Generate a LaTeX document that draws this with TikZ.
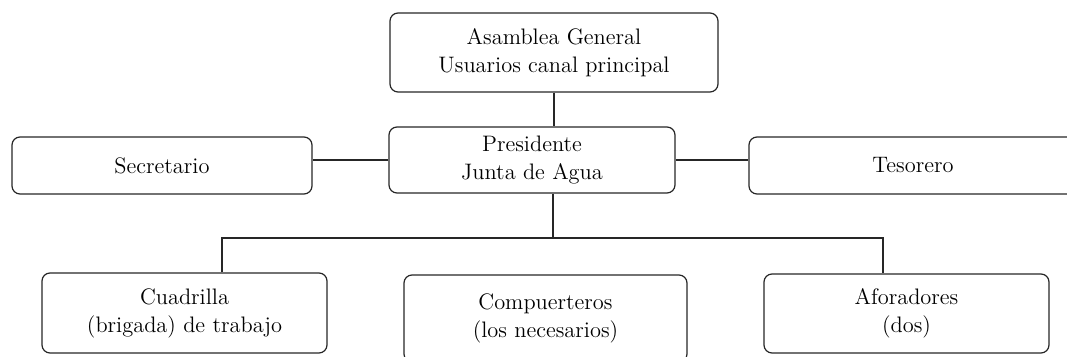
\documentclass[tikz,border=0pt]{standalone}
\usetikzlibrary{positioning}
\tikzstyle{unitbox}=[draw=black!85,line width=0.6pt,rounded corners=4pt,align=center,inner sep=0pt,font=\fontsize{11.2}{14}\selectfont]
\tikzstyle{link}=[draw=black!85,line width=0.6pt]

\begin{document}
\begin{tikzpicture}[x=0.5pt,y=-0.5pt]
  \useasboundingbox (0,0) rectangle (1067,357);

    \foreach \pos/\name/\w/\h/\label in {{(554,52.5)/asam/328/79/{Asamblea General\\Usuarios canal principal}},
        {(532,160)/pres/286/66/{Presidente\\Junta de Agua}},
        {(162,165.5)/secr/300/57/{Secretario}},
        {(913,165.5)/teso/328/57/{Tesorero}},
        {(184.5,313)/cuad/285/80/{Cuadrilla\\(brigada) de trabajo}},
        {(545.5,318.5)/comp/283/87/{Compuerteros\\(los necesarios)}},
        {(906.5,313.5)/afor/285/79/{Aforadores\\(dos)}}}
        \node[unitbox,minimum width=\w*0.5pt,minimum height=\h*0.5pt] (\name) at \pos {\label};

    % bus line below the president
    \coordinate (busM) at (553,238);
    \coordinate (busL) at (222,238);
    \coordinate (busR) at (883,238);

  \path[link] (asam.south) -- (asam.south |- pres.north);
  \path[link] (pres.west) -- (pres.west -| secr.east);
  \path[link] (pres.east) -- (pres.east -| teso.west);
  \path[link] (busM |- pres.south) -- (busM);
  \path[link] (busL |- cuad.north) -- (busL) -- (busR) -- (busR |- afor.north);

\end{tikzpicture}
\end{document}
